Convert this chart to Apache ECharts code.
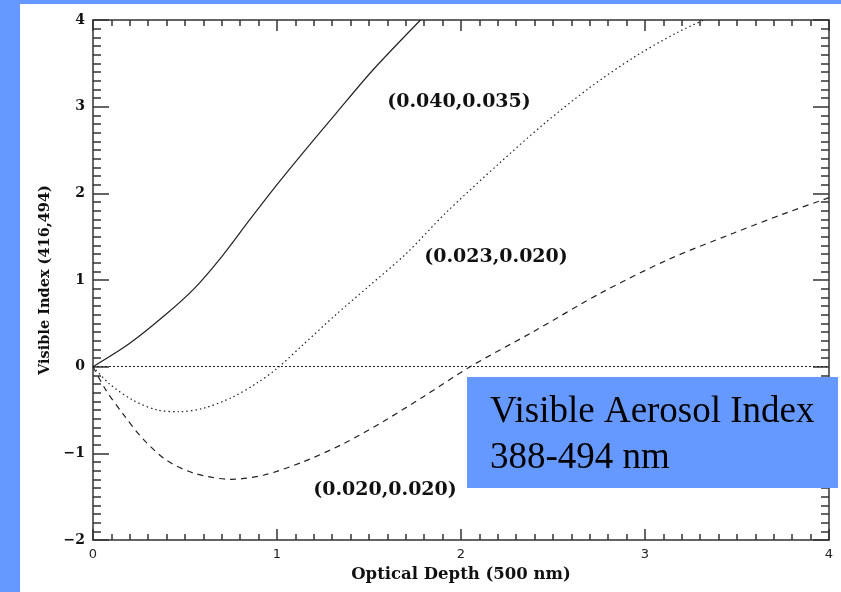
<!DOCTYPE html>
<html>
<head>
<meta charset="utf-8">
<script src="https://cdn.jsdelivr.net/npm/echarts@6/dist/echarts.min.js"></script>
<style>
html,body{margin:0;padding:0;}
#main{width:841px;height:592px;}
</style>
</head>
<body>
<div id="main"></div>
<script>
// optical depth / visible index
var solidX = [0, 0.2, 0.4, 0.55, 0.7, 0.85, 1.0, 1.15, 1.32, 1.52, 1.78];
var solidY = [0, 0.27, 0.61, 0.9, 1.27, 1.69, 2.1, 2.49, 2.92, 3.42, 4.0];
var dotX = [0, 0.09, 0.22, 0.35, 0.47, 0.6, 0.76, 0.89, 1.0, 1.14, 1.32, 1.5, 1.7, 1.92, 2.21, 2.45, 2.7, 2.94, 3.17, 3.32];
var dotY = [0, -0.2, -0.39, -0.5, -0.52, -0.48, -0.35, -0.19, -0.02, 0.25, 0.6, 0.93, 1.3, 1.78, 2.35, 2.8, 3.22, 3.57, 3.85, 4.0];
var dashX = [0, 0.07, 0.165, 0.27, 0.4, 0.55, 0.75, 0.93, 1.14, 1.36, 1.58, 1.8, 2.05, 2.39, 2.76, 3.12, 3.48, 3.75, 4.0];
var dashY = [0, -0.27, -0.55, -0.83, -1.08, -1.23, -1.3, -1.25, -1.1, -0.89, -0.63, -0.34, 0, 0.4, 0.85, 1.23, 1.54, 1.76, 1.95];
var seriesNames = ['(0.040,0.035)', '(0.023,0.020)', '(0.020,0.020)'];
var boxLines = ['Visible Aerosol Index', '388-494 nm'];

function pairs(xs, ys){
	var out = [];
	for(var i = 0; i < xs.length; i++){
		out.push([xs[i], ys[i]]);
	}
	return out;
}

var axisCol = '#333';
var lblFont = 'DejaVu Serif';

function xAx(pos, showLabel){
	return {
		type: 'value', position: pos, min: 0, max: 4, interval: 1,
		axisLine: {show: true, onZero: false, lineStyle: {color: axisCol, width: 1.5}},
		axisTick: {show: true, inside: true, length: 11, lineStyle: {color: axisCol, width: 1.5}},
		minorTick: {show: true, splitNumber: 10, length: 6, lineStyle: {color: axisCol, width: 1.5}},
		splitLine: {show: false},
		axisLabel: {show: showLabel, margin: 8, color: '#222', fontFamily: 'DejaVu Sans', fontSize: 13},
		name: showLabel ? 'Optical Depth (500 nm)' : '',
		nameLocation: 'middle', nameGap: 26,
		nameTextStyle: {fontFamily: lblFont, fontWeight: 'bold', fontSize: 16.5, color: '#111'}
	};
}

function yAx(pos, showLabel){
	return {
		type: 'value', position: pos, min: -2, max: 4, interval: 1,
		axisLine: {show: true, onZero: false, lineStyle: {color: axisCol, width: 1.5}},
		axisTick: {show: true, inside: true, length: 16, lineStyle: {color: axisCol, width: 1.5}},
		minorTick: {show: true, splitNumber: 10, length: 8, lineStyle: {color: axisCol, width: 1.5}},
		splitLine: {show: false},
		axisLabel: {show: showLabel, margin: 8, color: '#111', fontFamily: lblFont, fontWeight: 'bold', fontSize: 14,
			formatter: function(v){ return String(v).replace('-', '\u2212'); }},
		name: showLabel ? 'Visible Index (416,494)' : '',
		nameLocation: 'middle', nameGap: 40,
		nameTextStyle: {fontFamily: lblFont, fontWeight: 'bold', fontSize: 14.5, color: '#111'}
	};
}

var myChart = echarts.init(document.getElementById('main'));

var annFont = 'bold 19px "DejaVu Serif"';

var option = {
	backgroundColor: '#6699ff',
	animation: false,
	grid: {left: 93, right: 12, top: 20, bottom: 52},
	xAxis: [xAx('bottom', true), xAx('top', false)],
	yAxis: [yAx('left', true), yAx('right', false)],
	graphic: [
		{type: 'rect', z: -100, shape: {x: 20, y: 4, width: 821, height: 588}, style: {fill: '#fff'}},
		{type: 'text', z: 10, style: {x: 459, y: 102, text: seriesNames[0], align: 'center', verticalAlign: 'middle', font: annFont, fill: '#111'}},
		{type: 'text', z: 10, style: {x: 496, y: 257, text: seriesNames[1], align: 'center', verticalAlign: 'middle', font: annFont, fill: '#111'}},
		{type: 'text', z: 10, style: {x: 385, y: 490, text: seriesNames[2], align: 'center', verticalAlign: 'middle', font: annFont, fill: '#111'}},
		{type: 'rect', z: 20, shape: {x: 467, y: 377, width: 371, height: 111}, style: {fill: '#6699ff'}},
		{type: 'text', z: 21, style: {x: 490, y: 412, text: boxLines[0], verticalAlign: 'middle', font: '37px "Liberation Serif"', fill: '#000'}},
		{type: 'text', z: 21, style: {x: 490, y: 458, text: boxLines[1], verticalAlign: 'middle', font: '37px "Liberation Serif"', fill: '#000'}}
	],
	series: [
		{
			name: seriesNames[0], type: 'line', smooth: 0.3, symbol: 'none', clip: true,
			lineStyle: {color: '#222', width: 1.2, type: 'solid'},
			data: pairs(solidX, solidY),
			markLine: {
				silent: true, symbol: 'none', label: {show: false},
				lineStyle: {color: '#222', width: 1.2, type: [2, 2]},
				data: [{yAxis: 0}]
			}
		},
		{
			name: seriesNames[1], type: 'line', smooth: 0.3, symbol: 'none', clip: true,
			lineStyle: {color: '#222', width: 1.2, type: [1.5, 3]},
			data: pairs(dotX, dotY)
		},
		{
			name: seriesNames[2], type: 'line', smooth: 0.3, symbol: 'none', clip: true,
			lineStyle: {color: '#222', width: 1.2, type: [6, 5]},
			data: pairs(dashX, dashY)
		}
	]
};

myChart.setOption(option);
</script>
</body>
</html>
